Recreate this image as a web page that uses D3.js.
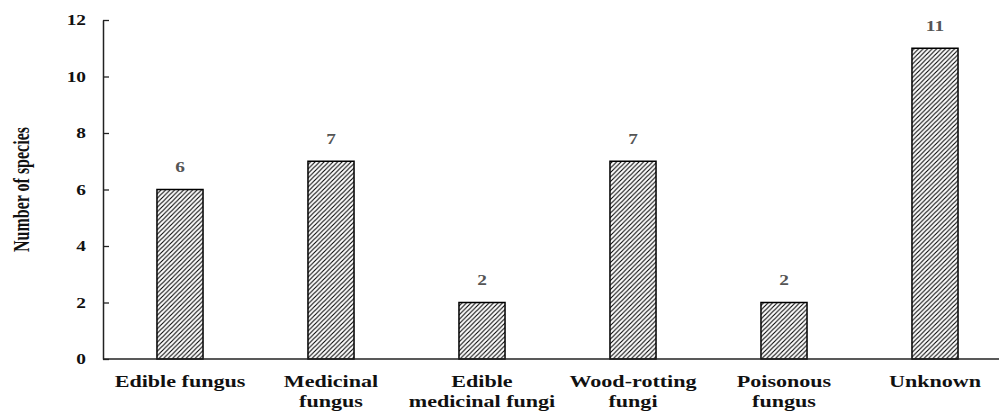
<!DOCTYPE html>
<html>
<head>
<meta charset="utf-8">
<script src="https://cdn.jsdelivr.net/npm/d3@7"></script>
<style>
  html, body { margin: 0; padding: 0; background: #fff; }
  svg { display: block; }
</style>
</head>
<body>
<svg id="chart" width="1000" height="414"></svg>
<script>
const categories = ["Edible fungus", "Medicinal fungus", "Edible medicinal fungi", "Wood-rotting fungi", "Poisonous fungus", "Unknown"];
const categoryLines = [["Edible fungus"], ["Medicinal", "fungus"], ["Edible", "medicinal fungi"], ["Wood-rotting", "fungi"], ["Poisonous", "fungus"], ["Unknown"]];
const speciesCounts = [6, 7, 2, 7, 2, 11];
const yTicks = [0, 2, 4, 6, 8, 10, 12];
const yLabel = "Number of species";

const FONT = "Liberation Serif";
const SX = 1.38;

const svg = d3.select("#chart");
const axisLeftX = 103, plotTop = 20, plotBottom = 359, axisRightX = 999;

const x = d3.scaleBand().domain(categories).range([104.5, 1010.5])
  .paddingInner(0.695).paddingOuter(0.3475);
const y = d3.scaleLinear().domain([0, 12]).range([plotBottom, plotTop]);

function serif(sel, size) {
  return sel.attr("font-family", FONT).attr("font-weight", "bold").attr("font-size", size)
    .style("font-family", FONT).style("font-weight", "bold").style("font-size", size + "px");
}

const defs = svg.append("defs");
const pat = defs.append("pattern").attr("id", "hatch")
  .attr("patternUnits", "userSpaceOnUse").attr("width", 4.5).attr("height", 4.5);
pat.append("rect").attr("width", 4.5).attr("height", 4.5).attr("fill", "#fff");
pat.append("path").attr("d", "M-1,1 L1,-1 M0,4.5 L4.5,0 M3.5,5.5 L5.5,3.5")
  .attr("stroke", "#000").attr("stroke-width", 1.1);

svg.append("g").selectAll("rect").data(speciesCounts).join("rect")
  .attr("x", (d, i) => x(categories[i]))
  .attr("y", d => y(d))
  .attr("width", x.bandwidth())
  .attr("height", d => y(0) - y(d))
  .attr("fill", "url(#hatch)")
  .attr("stroke", "#000").attr("stroke-width", 1.5);

serif(svg.append("g").selectAll("text").data(speciesCounts).join("text"), 14)
  .attr("transform", (d, i) => `translate(${x(categories[i]) + x.bandwidth() / 2},${y(d) - 17.5}) scale(${SX},1)`)
  .attr("text-anchor", "middle")
  .attr("fill", "#555")
  .text(d => d);

const gy = svg.append("g").attr("transform", `translate(${axisLeftX},0)`)
  .call(d3.axisLeft(y).tickValues(yTicks).tickSizeInner(-6).tickSizeOuter(0).tickPadding(0));
gy.attr("font-family", null).attr("font-size", null);
gy.select(".domain").attr("stroke", "#222").attr("stroke-width", 1.5);
gy.selectAll(".tick line").attr("stroke", "#222").attr("stroke-width", 1.3);
serif(gy.selectAll(".tick text"), 14)
  .attr("x", null).attr("dy", "0.34em")
  .attr("transform", `translate(-17,0) scale(${SX},1)`)
  .attr("fill", "#111");

const gx = svg.append("g").attr("transform", `translate(0,${plotBottom})`)
  .call(d3.axisBottom(x).tickSize(0).tickPadding(0));
gx.attr("font-family", null).attr("font-size", null);
gx.select(".domain").remove();
gx.selectAll(".tick text").each(function(d, i) {
  const t = d3.select(this);
  serif(t.text(null).attr("y", 0).attr("dy", null), 16)
    .attr("transform", `scale(${SX},1)`)
    .attr("fill", "#111");
  categoryLines[i].forEach((line, j) => {
    t.append("tspan").attr("x", 0).attr("y", 28 + j * 20).text(line);
  });
});
svg.append("line").attr("x1", axisLeftX).attr("x2", axisRightX)
  .attr("y1", y(0)).attr("y2", y(0))
  .attr("stroke", "#222").attr("stroke-width", 1.5);

serif(svg.append("text"), 16)
  .attr("transform", `translate(29,${(plotTop + plotBottom) / 2}) rotate(-90) scale(1,${SX})`)
  .attr("text-anchor", "middle")
  .attr("fill", "#111")
  .text(yLabel);
</script>
</body>
</html>
